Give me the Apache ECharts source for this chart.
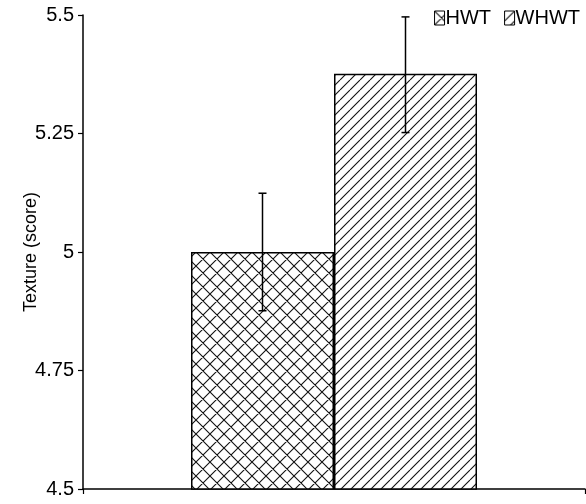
<!DOCTYPE html>
<html>
<head>
<meta charset="utf-8">
<script src="https://cdn.jsdelivr.net/npm/echarts@6/dist/echarts.min.js"></script>
<style>html,body{margin:0;padding:0;background:#fff}#c{width:586px;height:504px}</style>
</head>
<body>
<div id="c"></div>
<script>
// ---- data ----
const groups = ['HWT', 'WHWT'];
const means = [5.0, 5.376];
const errLow = [4.876, 5.252];
const errHigh = [5.124, 5.496];
const yTicks = ['4.5', '4.75', '5', '5.25', '5.5'];

// ---- styles ----
const FONT = '"Liberation Sans", Arial, sans-serif';
const BAR_W = 143;

function makePattern(period, cross) {
  const c = document.createElement('canvas');
  c.width = period; c.height = period;
  const ctx = c.getContext('2d');
  ctx.fillStyle = '#fff';
  ctx.fillRect(0, 0, period, period);
  ctx.strokeStyle = '#111';
  ctx.lineWidth = 1.1;
  ctx.beginPath();
  for (let k = -1; k <= 1; k++) {
    ctx.moveTo(k * period, period);
    ctx.lineTo(k * period + period, 0);
    if (cross) {
      ctx.moveTo(k * period, 0);
      ctx.lineTo(k * period + period, period);
    }
  }
  ctx.stroke();
  return { image: c, repeat: 'repeat' };
}
const patterns = [makePattern(14, true), makePattern(10, false)];

const chart = echarts.init(document.getElementById('c'), null, { renderer: 'canvas' });

const barSeries = groups.map((g, i) => ({
  name: g,
  type: 'bar',
  data: [means[i]],
  barWidth: BAR_W,
  barGap: '0%',
  itemStyle: { color: patterns[i], borderColor: '#000', borderWidth: 1.5 },
  silent: true
}));

const errData = groups.map((g, i) => [0, errLow[i], errHigh[i], i - (groups.length - 1) / 2]);

const option = {
  animation: false,
  backgroundColor: '#fff',
  grid: { left: 83, right: 1, top: 15, bottom: 15, containLabel: false },
  legend: {
    data: groups,
    right: 1, top: 3,
    itemWidth: 10, itemHeight: 14, itemGap: 13,
    icon: 'rect',
    textStyle: { fontFamily: FONT, fontSize: 20, color: '#000', padding: [0, 0, 0, -4] },
    itemStyle: { borderColor: '#000', borderWidth: 1 }
  },
  xAxis: {
    type: 'category',
    data: [''],
    axisLine: { lineStyle: { color: '#000', width: 1.5 } },
    axisTick: { show: true, length: 5, lineStyle: { color: '#000', width: 1.2 } },
    axisLabel: { show: false }
  },
  yAxis: {
    type: 'value',
    min: 4.5, max: 5.5, interval: 0.25,
    name: 'Texture (score)',
    nameLocation: 'middle',
    nameRotate: 90,
    nameGap: 43,
    nameMoveOverlap: false,
    nameTextStyle: { fontFamily: FONT, fontSize: 18, color: '#000' },
    axisLine: { show: true, lineStyle: { color: '#000', width: 1.5 } },
    axisTick: { show: true, length: 5, lineStyle: { color: '#000', width: 1.2 } },
    splitLine: { show: false },
    axisLabel: {
      fontFamily: FONT, fontSize: 20, color: '#000', margin: 9,
      formatter: v => yTicks.find(t => Math.abs(parseFloat(t) - v) < 1e-9) || ''
    }
  },
  series: barSeries.concat([{
    type: 'custom',
    silent: true,
    z: 5,
    data: errData,
    renderItem: function (params, api) {
      const off = api.value(3) * BAR_W;
      const lo = api.coord([api.value(0), api.value(1)]);
      const hi = api.coord([api.value(0), api.value(2)]);
      const x = lo[0] + off;
      const cap = 4;
      const st = { stroke: '#000', lineWidth: 1.5 };
      return {
        type: 'group',
        children: [
          { type: 'line', shape: { x1: x, y1: lo[1], x2: x, y2: hi[1] }, style: st },
          { type: 'line', shape: { x1: x - cap, y1: lo[1], x2: x + cap, y2: lo[1] }, style: st },
          { type: 'line', shape: { x1: x - cap, y1: hi[1], x2: x + cap, y2: hi[1] }, style: st }
        ]
      };
    }
  }])
};
chart.setOption(option);
</script>
</body>
</html>
